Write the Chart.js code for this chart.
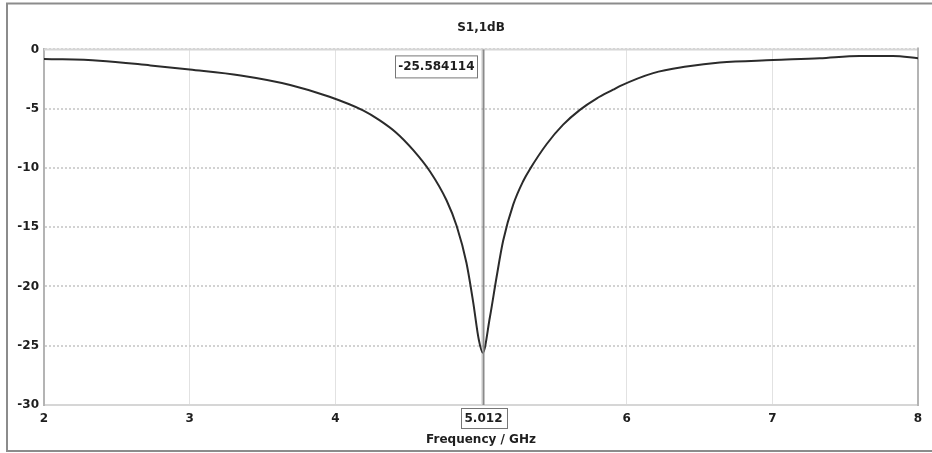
<!DOCTYPE html>
<html>
<head>
<meta charset="utf-8">
<script src="https://cdn.jsdelivr.net/npm/chart.js@4"></script>
<style>
  body { margin: 0; background: #fff; }
  #wrap { width: 932px; height: 453px; }
</style>
</head>
<body>
<div id="wrap"><canvas id="chart" width="932" height="453"></canvas></div>
<script>
// S-parameter sweep
const freqGHz = [2.0, 2.38, 2.73, 3.0, 3.35, 3.69, 3.96, 4.19, 4.3, 4.42, 4.535, 4.65, 4.764, 4.833, 4.9, 4.946, 4.985,
                 5.012, 5.061, 5.107, 5.152, 5.221, 5.29, 5.336, 5.45, 5.564, 5.679, 5.793, 5.907, 5.953, 6.182,
                 6.411, 6.64, 7.005, 7.325, 7.6, 7.827, 8.0];
const s11dB = [-0.8, -0.95, -1.35, -1.7, -2.2, -3.0, -4.0, -5.15, -5.95, -7.05, -8.5, -10.3, -12.75, -14.9, -18.0, -21.3, -24.5,
               -25.584114, -22.6, -19.2, -16.15, -13.1, -11.1, -10.1, -8.0, -6.35, -5.1, -4.15, -3.4, -3.1, -2.0,
               -1.45, -1.1, -0.9, -0.75, -0.55, -0.55, -0.75];
const xTicks = [2, 3, 4, 5, 6, 7, 8];
const yTicks = [0, -5, -10, -15, -20, -25, -30];
const markerX = 5.012;
const markerY = -25.584114;

const points = freqGHz.map((f, i) => ({ x: f, y: s11dB[i] }));

Chart.defaults.font.family = 'DejaVu Sans';
Chart.defaults.font.size = 12;
Chart.defaults.font.weight = 'bold';
Chart.defaults.color = '#1e1e1e';

// outer window frame + plot frame + marker with its two readouts
const framePlugin = {
    id: 'frame',
    beforeDatasetsDraw(chart) {
        const { ctx, chartArea: a } = chart;
        ctx.save();
        ctx.strokeStyle = '#d6d6d6';
        ctx.lineWidth = 2;
        ctx.beginPath();
        ctx.moveTo(a.left, a.top); ctx.lineTo(a.right, a.top);
        ctx.stroke();
        ctx.strokeStyle = '#b4b4b4';
        ctx.beginPath();
        ctx.moveTo(a.right, a.top - 2); ctx.lineTo(a.right, a.bottom + 1);
        ctx.stroke();
        ctx.restore();
    },
    afterDraw(chart) {
        const { ctx, chartArea: a } = chart;
        const xs = chart.scales.x;
        const mx = Math.round(xs.getPixelForValue(markerX)) + 0.5;
        ctx.save();
        // marker line
        ctx.strokeStyle = '#8a8a8a';
        ctx.lineWidth = 2;
        ctx.beginPath();
        ctx.moveTo(mx, a.top); ctx.lineTo(mx, a.bottom);
        ctx.stroke();

        ctx.font = 'bold 12px "DejaVu Sans"';
        ctx.textBaseline = 'middle';
        ctx.lineWidth = 1;
        ctx.strokeStyle = '#777';
        // value readout (top)
        const vText = markerY.toFixed(6);
        const vw = ctx.measureText(vText).width + 6;
        const vx = mx - 6 - vw, vy = a.top + 6;
        ctx.fillStyle = '#fff';
        ctx.fillRect(vx, vy, vw, 22);
        ctx.strokeRect(Math.round(vx) + 0.5, vy + 0.5, Math.round(vw), 22);
        ctx.fillStyle = '#1e1e1e';
        ctx.textAlign = 'center';
        ctx.fillText(vText, vx + vw / 2, vy + 11.5);
        // frequency readout (bottom)
        const fText = markerX.toFixed(3);
        const fw = ctx.measureText(fText).width + 8;
        const fx = mx - fw / 2, fy = a.bottom + 3;
        ctx.fillStyle = '#fff';
        ctx.fillRect(fx, fy, fw, 20);
        ctx.strokeRect(Math.round(fx) + 0.5, fy + 0.5, Math.round(fw), 20);
        ctx.fillStyle = '#1e1e1e';
        ctx.fillText(fText, mx, fy + 10.5);

        // window frame
        ctx.strokeStyle = '#8c8c8c';
        ctx.lineWidth = 2;
        ctx.beginPath();
        ctx.moveTo(932, 3.5); ctx.lineTo(7, 3.5); ctx.lineTo(7, 451); ctx.lineTo(932, 451);
        ctx.stroke();
        ctx.restore();
    }
};

new Chart(document.getElementById('chart'), {
    type: 'line',
    data: {
        datasets: [{
            label: 'S1,1dB',
            data: points,
            borderColor: '#2b2b2b',
            borderWidth: 2,
            pointRadius: 0,
            cubicInterpolationMode: 'monotone',
            fill: false
        }]
    },
    options: {
        responsive: false,
        animation: false,
        devicePixelRatio: 1,
        layout: { padding: { left: 0, right: 14, top: 0, bottom: 0 } },
        plugins: {
            legend: { display: false },
            tooltip: { enabled: false },
            title: {
                display: true,
                text: 'S1,1dB',
                fullSize: false,
                color: '#1e1e1e',
                font: { size: 12, weight: 'bold' },
                padding: { top: 21, bottom: 14 }
            }
        },
        scales: {
            x: {
                type: 'linear',
                min: 2,
                max: 8,
                afterFit: s => { s.height = 48; },
                afterBuildTicks: s => { s.ticks = xTicks.map(v => ({ value: v })); },
                grid: { color: '#e2e2e2', lineWidth: 1, drawTicks: false },
                border: { color: '#d6d6d6', width: 2 },
                ticks: { padding: 7, maxRotation: 0, autoSkip: false },
                title: {
                    display: true,
                    text: 'Frequency / GHz',
                    font: { size: 12, weight: 'bold' },
                    padding: { top: 0, bottom: 6 }
                }
            },
            y: {
                type: 'linear',
                min: -30,
                max: 0,
                afterFit: s => { s.width = 44; },
                afterBuildTicks: s => { s.ticks = yTicks.map(v => ({ value: v })); },
                grid: { color: '#d2d2d2', lineWidth: 2, drawTicks: false },
                border: { color: '#b4b4b4', width: 2, dash: [2, 2] },
                ticks: { padding: 5, autoSkip: false }
            }
        }
    },
    plugins: [framePlugin]
});
</script>
</body>
</html>
